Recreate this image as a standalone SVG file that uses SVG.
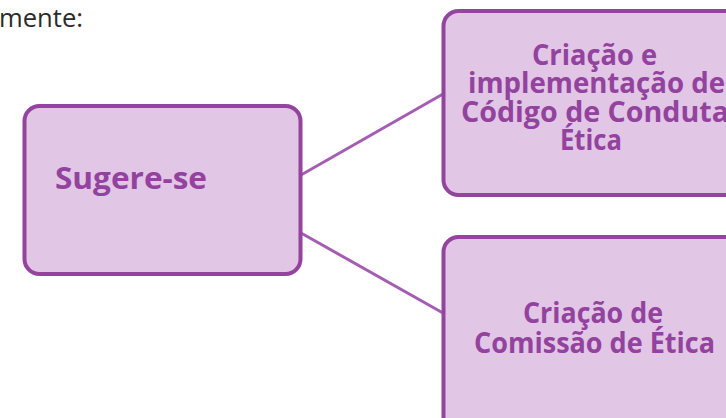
<svg xmlns="http://www.w3.org/2000/svg" width="726" height="418" viewBox="0 0 726 418">
<style>
.box{fill:#e1c6e6;stroke:#94439f;stroke-width:4}
.lbl{font-family:"Open Sans","Noto Sans",sans-serif;font-weight:bold;font-size:29px;fill:#93429e}
.mid{text-anchor:middle}
.conn{stroke:#a55db2;stroke-width:3;fill:none}
.body{font-family:"Open Sans","Noto Sans",sans-serif;font-size:25px;fill:#2b2b2b}
</style>
<rect width="726" height="418" fill="#ffffff"/>
<text class="body" x="-1" y="27" textLength="84" lengthAdjust="spacingAndGlyphs">mente:</text>
<g id="connectors">
<line class="conn" x1="301" y1="175" x2="443" y2="94"/>
<line class="conn" x1="301" y1="233" x2="443" y2="313"/>
</g>
<g id="node-sugere">
<rect class="box" x="24.5" y="106" width="276" height="168" rx="15"/>
<text class="lbl" x="55" y="189" style="font-size:30px" textLength="152" lengthAdjust="spacingAndGlyphs">Sugere-se</text>
</g>
<g id="node-codigo">
<rect class="box" x="443.5" y="11" width="300" height="184" rx="15"/>
<text class="lbl mid" x="594.5" y="65" textLength="125" lengthAdjust="spacingAndGlyphs">Criação e</text>
<text class="lbl mid" x="596.5" y="93" textLength="257" lengthAdjust="spacingAndGlyphs">implementação de</text>
<text class="lbl mid" x="595" y="122" textLength="268" lengthAdjust="spacingAndGlyphs">Código de Conduta</text>
<text class="lbl mid" x="591" y="150" textLength="62" lengthAdjust="spacingAndGlyphs">Ética</text>
</g>
<g id="node-comissao">
<rect class="box" x="443.5" y="237" width="300" height="200" rx="15"/>
<text class="lbl mid" x="593" y="323" textLength="140" lengthAdjust="spacingAndGlyphs">Criação de</text>
<text class="lbl mid" x="594.5" y="353" textLength="241" lengthAdjust="spacingAndGlyphs">Comissão de Ética</text>
</g>
</svg>
